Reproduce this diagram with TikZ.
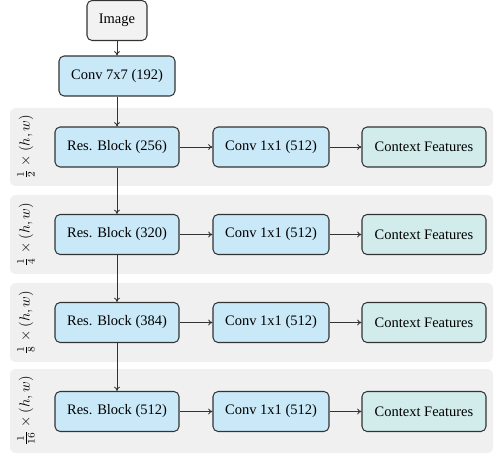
\documentclass[tikz,border=0pt]{standalone}
\usepackage{fontspec}
\setmainfont{Liberation Serif}
\usetikzlibrary{arrows.meta}
\definecolor{bandgray}{HTML}{F0F0F0}
\definecolor{blockblue}{HTML}{C9E9F8}
\definecolor{ctxteal}{HTML}{D2ECEC}
\definecolor{inputgray}{HTML}{F2F2F2}
\definecolor{edgegray}{HTML}{333333}
\tikzset{
  box/.style={draw=edgegray, line width=0.7pt, rounded corners=3.5pt,
    minimum height=40*0.69pt, inner sep=0pt, font=\fontsize{10}{12}\selectfont},
  layerbox/.style={box, fill=blockblue},
  ctxbox/.style={box, fill=ctxteal, minimum width=124*0.69pt},
  inbox/.style={box, fill=inputgray, minimum width=60*0.69pt},
  band/.style={fill=bandgray, rounded corners=4pt},
  scalelabel/.style={rotate=90, font=\fontsize{10}{12}\selectfont},
  flow/.style={-{To[length=3pt,width=4pt]}, draw=edgegray, line width=0.6pt},
}
\begin{document}
\begin{tikzpicture}[x=0.69pt,y=-0.69pt]
\useasboundingbox (0,0) rectangle (494,454);
% resolution bands
\path[band] (10,108) rectangle (493,186);
\path[band] (10,195) rectangle (493,274);
\path[band] (10,283) rectangle (493,362);
\path[band] (10,369) rectangle (493,453);
\node[scalelabel] (l1) at (26,147) {$\frac{1}{2}\times(h,w)$};
\node[scalelabel] (l2) at (26,234.5) {$\frac{1}{4}\times(h,w)$};
\node[scalelabel] (l3) at (26,322.5) {$\frac{1}{8}\times(h,w)$};
\node[scalelabel] (l4) at (26,411) {$\frac{1}{16}\times(h,w)$};
% stem
\node[inbox] (img) at (117,20.5) {Image};
\node[layerbox, minimum width=116*0.69pt] (stem) at (117,76) {Conv 7x7 (192)};
% residual blocks, projections and outputs
\foreach \i/\y/\c in {1/147/256, 2/234.5/320, 3/322.5/384, 4/411.5/512} {
  \node[layerbox, minimum width=124*0.69pt] (res\i) at (117,\y) {Res. Block (\c)};
  \node[layerbox, minimum width=116*0.69pt] (proj\i) at (271,\y) {Conv 1x1 (512)};
  \node[ctxbox] (ctx\i) at (424,\y) {Context Features};
  \draw[flow] (res\i) -- (proj\i);
  \draw[flow] (proj\i) -- (ctx\i);
}
\draw[flow] (img) -- (stem);
\draw[flow] (stem) -- (res1);
\draw[flow] (res1) -- (res2);
\draw[flow] (res2) -- (res3);
\draw[flow] (res3) -- (res4);
\end{tikzpicture}
\end{document}
